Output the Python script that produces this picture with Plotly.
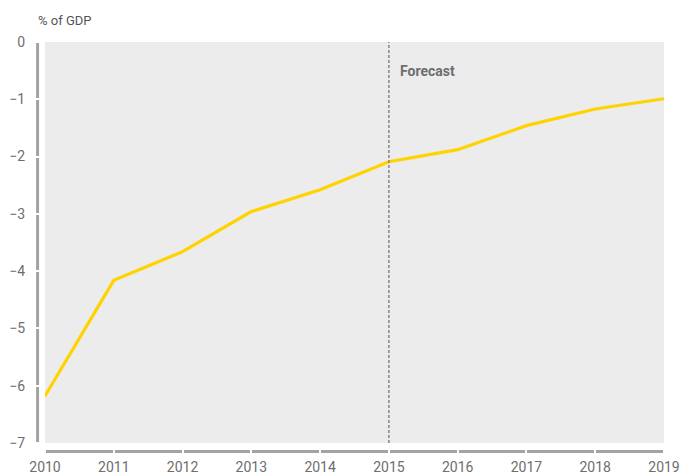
import plotly.graph_objects as go

# Budget balance, % of GDP (2016 onward is forecast)
years = [2010, 2011, 2012, 2013, 2014, 2015, 2016, 2017, 2018, 2019]
balance = [-6.18, -4.16, -3.66, -2.96, -2.58, -2.09, -1.88, -1.46, -1.17, -0.99]
y_ticks = [0, -1, -2, -3, -4, -5, -6, -7]
forecast_start = 2015

AXIS_GREY = "#A3A3A3"
TEXT_GREY = "#6E6E6E"
FONT = "Roboto, Arial, sans-serif"

fig = go.Figure()
fig.add_trace(go.Scatter(
    x=years, y=balance, mode="lines",
    line=dict(color="#FFD300", width=3.2),
    hoverinfo="x+y", showlegend=False,
))

# Thick axis bars; white ticks cut the small gaps across them
fig.add_shape(type="line", xref="paper", yref="y",
              x0=-0.012, x1=-0.012, y0=-7, y1=0,
              line=dict(color=AXIS_GREY, width=3), layer="below")
fig.add_shape(type="line", xref="x", yref="paper",
              x0=years[0], x1=years[-1], y0=-0.021, y1=-0.021,
              line=dict(color=AXIS_GREY, width=3), layer="below")

# Forecast divider
fig.add_shape(type="line", xref="x", yref="paper",
              x0=forecast_start, x1=forecast_start, y0=0, y1=1,
              line=dict(color="#8C8C8C", width=1.6, dash="3px,2px"))
fig.add_annotation(x=forecast_start, y=-0.5, xref="x", yref="y",
                   text="<b>Forecast</b>", showarrow=False,
                   xanchor="left", yanchor="middle", xshift=9,
                   font=dict(family=FONT, size=14, color=TEXT_GREY))

fig.add_annotation(x=-0.015, y=1.0, xref="paper", yref="paper",
                   text="% of GDP", showarrow=False,
                   xanchor="left", yanchor="bottom", yshift=12,
                   font=dict(family=FONT, size=13, color="#555555"))

fig.update_xaxes(
    range=[years[0], years[-1]], tickvals=years, automargin=False,
    ticks="outside", ticklen=11, tickwidth=2, tickcolor="white",
    ticklabelstandoff=0,
    showgrid=False, zeroline=False, showline=False,
    tickfont=dict(family=FONT, size=14, color=TEXT_GREY),
)
fig.update_yaxes(
    range=[-7, 0], tickvals=y_ticks, automargin=False,
    ticks="outside", ticklen=16, tickwidth=2, tickcolor="white",
    showgrid=False, zeroline=False, showline=False,
    tickfont=dict(family=FONT, size=14, color=TEXT_GREY),
)

fig.update_layout(
    width=692, height=474,
    margin=dict(l=45, r=28, t=42, b=31),
    paper_bgcolor="white", plot_bgcolor="#ECECEC",
    font=dict(family=FONT),
)

fig.write_html("out.html")
